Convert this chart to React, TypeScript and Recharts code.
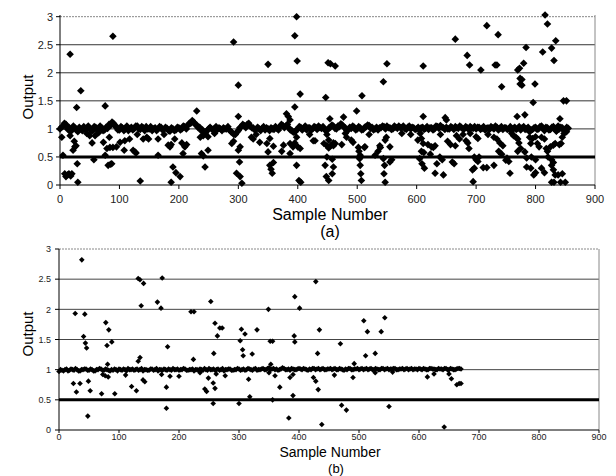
import React from 'react';
import { ScatterChart, Scatter, XAxis, YAxis, ReferenceLine } from 'recharts';

// ---------- Panel (a) ----------
const xTicks = [0, 100, 200, 300, 400, 500, 600, 700, 800, 900];
const yTicks = [0, 0.5, 1, 1.5, 2, 2.5, 3];
const gridValues = [1, 1.5, 2, 2.5];

// dense band near 1.0, one value every 5 samples (samples 0..855)
const bandAStep = 5;
const bandA = [
  1.0, 1.05, 1.08, 1.03, 0.98, 1.02, 0.95, 1.0, 1.04, 0.99,
  1.01, 0.97, 1.03, 1.0, 1.02, 0.98, 1.01, 1.06, 1.1, 1.04,
  0.98, 1.02, 1.0, 0.97, 1.03, 1.01, 1.05, 0.99, 1.02, 1.04,
  1.0, 0.97, 1.02, 1.0, 1.03, 0.99, 1.01, 0.96, 1.0, 0.98,
  1.02, 1.0, 1.04, 1.06, 1.1, 1.12, 1.07, 1.03, 0.98, 0.93,
  1.0, 1.0, 1.01, 0.99, 1.0, 1.02, 1.0, 0.98, 0.93, 0.9,
  0.97, 1.04, 1.06, 1.08, 1.05, 1.02, 0.99, 1.0, 1.01, 0.98,
  1.0, 1.02, 0.99, 1.01, 1.04, 1.06, 1.05, 1.02, 0.97, 0.94,
  1.0, 1.03, 1.01, 0.98, 1.02, 1.0, 1.03, 1.05, 1.01, 0.99,
  0.98, 1.03, 1.05, 1.0, 1.04, 1.07, 1.02, 0.98, 1.01, 1.03,
  1.0, 1.02, 0.99, 1.04, 1.06, 1.03, 1.0, 0.98, 1.02, 1.04,
  1.05, 1.02, 1.0, 1.03, 1.05, 1.02, 1.01, 1.03, 1.0, 1.02,
  1.0, 0.98, 1.03, 1.01, 0.99, 1.02, 1.0, 1.04, 1.06, 1.02,
  1.03, 1.0, 1.02, 1.04, 1.01, 1.03, 1.0, 1.02, 1.04, 1.01,
  1.0, 1.03, 1.01, 0.98, 1.02, 1.04, 1.0, 1.03, 1.01, 0.99,
  1.02, 1.0, 0.97, 1.03, 1.01, 0.98, 1.04, 1.0, 0.95, 0.99,
  1.03, 1.0, 1.05, 0.97, 1.02, 0.99, 1.04, 0.96, 1.0, 1.02,
  0.98, 1.01,
];
// second band pass, samples 2.5, 7.5, ... 852.5
const bandA2Start = 2.5;
const bandA2 = [
  1.03, 1.1, 1.0, 0.95, 1.05, 0.98, 1.03, 0.97, 1.0, 1.05,
  0.97, 1.04, 0.98, 1.05, 0.97, 1.03, 1.08, 1.12, 1.05, 0.98,
  1.04, 0.97, 1.05, 1.0, 0.98, 1.05, 1.0, 1.04, 0.97, 1.0,
  1.04, 1.0, 0.97, 1.04, 0.98, 1.03, 0.97, 1.02, 0.97, 1.03,
  0.98, 1.05, 1.0, 1.1, 1.15, 1.08, 1.02, 0.97, 0.93, 0.97,
  1.03, 0.98, 1.04, 1.02, 0.97, 1.0, 1.04, 0.95, 0.9, 0.94,
  1.02, 1.08, 1.02, 1.1, 1.02, 0.98, 1.03, 0.97, 1.04, 1.02,
  0.97, 1.0, 1.04, 0.98, 1.08, 1.02, 1.08, 0.98, 0.94, 0.98,
  1.04, 0.98, 1.05, 1.02, 0.98, 1.04, 0.99, 1.02, 1.04, 0.97,
  1.02, 1.07, 1.01, 1.05, 1.09, 1.03, 0.97, 1.03, 1.05, 0.98,
  1.04, 0.98, 1.03, 1.07, 1.01, 0.98, 1.03, 1.02, 1.05, 1.0,
  1.02, 0.99, 1.05, 1.01, 1.02, 1.05, 0.99, 1.05, 1.03, 0.99,
  1.03, 1.02, 0.99, 1.04, 1.02, 0.98, 1.05, 1.01, 1.03, 0.99,
  1.0, 1.04, 0.99, 1.02, 1.05, 1.0, 1.04, 0.99, 1.02, 1.04,
  1.03, 0.99, 1.04, 1.01, 0.99, 1.02, 1.05, 0.98, 1.04, 1.02,
  0.99, 1.04, 1.01, 0.99, 1.04, 1.02, 0.99, 1.03, 0.98, 1.02,
  0.99, 1.04, 1.01, 1.03, 0.98, 1.03, 1.01, 0.99, 1.03, 0.97,
  1.03,
];

const outlierXA = [
  89, 17, 35, 28, 76, 398, 395, 292, 350, 399, 451, 300, 404, 447, 230, 395, 300, 381, 384, 387,
  665, 455, 463, 550, 611, 544, 508, 499, 454, 477, 611, 648, 650,
  816, 820, 718, 737, 834, 784, 812, 827, 685, 831, 689, 732, 735, 780, 708, 770, 773, 774, 777, 774, 777,
  743, 799, 796, 847, 852, 782, 769, 841,
];
const outlierYA = [
  2.65, 2.33, 1.68, 1.38, 1.41, 3.0, 2.66, 2.55, 2.15, 2.21, 2.18, 1.78, 1.62, 1.56, 1.32, 1.39, 1.22, 1.27, 1.22, 1.16,
  2.6, 2.16, 2.12, 2.16, 2.12, 1.84, 1.59, 1.32, 1.18, 1.21, 1.22, 1.2, 1.16,
  3.03, 2.87, 2.84, 2.68, 2.57, 2.45, 2.37, 2.44, 2.31, 2.22, 2.14, 2.14, 2.14, 2.17, 2.05, 2.05, 2.08, 1.9, 1.88, 1.8, 1.78,
  1.75, 1.8, 1.47, 1.5, 1.5, 1.25, 1.22, 1.18,
];

const lowXA = [
  3, 5, 8, 10, 13, 15, 18, 20, 22, 25, 27, 29, 30, 17, 24, 50, 54, 57, 59, 73, 79, 81, 84, 85, 87, 89, 83, 76,
  95, 101, 108, 109, 117, 123, 126, 128, 135, 140, 146, 149, 165, 165, 182, 185, 187, 187, 190, 193, 195, 202, 207,
  205, 210, 213,
  236, 241, 249, 238, 241, 244, 249, 289, 292, 303, 300, 302, 297, 303, 306, 322, 325, 336, 348, 353, 359, 350,
  353, 355, 357, 359, 376, 387, 392, 387, 400, 404, 398, 402, 405, 429, 444, 449, 446, 448, 373, 398, 395, 426,
  449, 452, 455, 460, 452, 460, 449, 458, 460, 458, 452, 463, 474, 482, 490, 493, 502, 503, 505, 504, 505, 506, 507,
  512, 513, 530, 535, 538, 539, 547, 549, 555, 544, 546, 545, 547, 555, 558,
  602, 606, 608, 611, 608, 612, 605, 609, 613, 619, 625, 628, 631, 623, 631, 634, 639, 643, 645, 660, 663,
  652, 657, 665, 667, 672, 678, 688,
  683, 686, 700, 703, 697, 700, 703, 705, 694, 697, 712, 718, 730, 695, 730, 735, 740, 745, 738, 743, 752, 757,
  750, 755, 763, 767, 770, 772, 775, 770, 782, 785, 785, 790, 795, 800, 810, 815, 792, 803, 806, 793, 800, 792,
  797, 800, 810, 815, 818, 820, 825, 830, 833, 840, 843, 835, 838, 821, 827, 830, 827, 830, 833, 838, 845, 827,
  831, 842, 850, 845, 848, 852,
  45, 65, 130, 175, 260, 330, 420, 480, 520, 575, 590, 640, 690, 720, 760,
];
const lowYA = [
  0.85, 0.53, 0.2, 0.15, 0.18, 0.2, 0.16, 0.2, 0.62, 0.68, 0.7, 0.38, 0.05, 0.88, 0.78, 0.88, 0.75, 0.45, 0.88, 0.76, 0.65, 0.35, 0.67, 0.37, 0.38, 0.67, 0.85, 0.53,
  0.68, 0.76, 0.62, 0.79, 0.82, 0.62, 0.59, 0.57, 0.07, 0.82, 0.85, 0.82, 0.53, 0.82, 0.71, 0.68, 0.05, 0.72, 0.32, 0.82, 0.22, 0.15, 0.56,
  0.75, 0.68, 0.72,
  0.85, 0.88, 0.86, 0.56, 0.52, 0.32, 0.62, 0.74, 0.78, 0.68, 0.62, 0.41, 0.21, 0.15, 0.03, 0.85, 0.82, 0.76, 0.74, 0.83, 0.69, 0.59,
  0.35, 0.28, 0.21, 0.4, 0.71, 0.74, 0.68, 0.56, 0.68, 0.65, 0.35, 0.08, 0.05, 0.79, 0.74, 0.7, 0.35, 0.15, 0.6, 0.85, 0.75, 0.79,
  0.9, 0.8, 0.7, 0.75, 0.66, 0.7, 0.5, 0.46, 0.32, 0.2, 0.08, 0.74, 0.72, 0.85, 0.8, 0.76, 0.67, 0.6, 0.53, 0.47, 0.35, 0.2, 0.08,
  0.67, 0.68, 0.53, 0.6, 0.7, 0.67, 0.8, 0.85, 0.68, 0.47, 0.35, 0.2, 0.05, 0.41, 0.45,
  0.8, 0.92, 0.83, 0.74, 0.6, 0.58, 0.47, 0.38, 0.3, 0.72, 0.68, 0.67, 0.7, 0.55, 0.21, 0.38, 0.5, 0.45, 0.18, 0.41, 0.38,
  0.78, 0.72, 0.7, 0.88, 0.82, 0.9, 0.65,
  0.79, 0.75, 0.86, 0.83, 0.5, 0.45, 0.42, 0.5, 0.27, 0.3, 0.31, 0.31, 0.35, 0.06, 0.85, 0.82, 0.75, 0.7, 0.6, 0.55, 0.48, 0.21,
  0.44, 0.42, 0.88, 0.85, 0.82, 0.75, 0.65, 0.6, 0.59, 0.48, 0.32, 0.85, 0.83, 0.86, 0.85, 0.82, 0.74, 0.74, 0.68, 0.5, 0.45, 0.3,
  0.18, 0.22, 0.3, 0.22, 0.65, 0.6, 0.68, 0.71, 0.74, 0.72, 0.74, 0.97, 1.05, 0.5, 0.45, 0.4, 0.35, 0.27, 0.18, 0.18, 0.2, 0.05,
  0.05, 0.05, 0.05, 0.85, 0.92, 0.95,
  0.92, 0.93, 0.9, 0.9, 0.92, 0.9, 0.9, 0.92, 0.9, 0.92, 0.9, 0.9, 0.92, 0.9, 0.92,
];

// ---------- Panel (b) ----------
const bandBStep = 5;
const bandB = [
  0.97, 0.99, 1.0, 0.98, 1.01, 0.99, 1.0, 0.98, 1.0, 1.01,
  0.99, 1.0, 0.98, 1.0, 1.01, 0.99, 1.0, 0.98, 0.99, 1.0,
  1.01, 0.99, 1.0, 1.02, 1.0, 0.99, 1.01, 1.0, 0.98, 1.0,
  0.99, 1.01, 1.0, 0.98, 1.0, 1.01, 0.99, 1.0, 1.02, 1.0,
  0.99, 1.0, 1.01, 0.99, 1.0, 0.98, 1.0, 1.01, 0.99, 1.0,
  1.02, 1.0, 0.99, 1.01, 1.0, 0.98, 1.0, 1.01, 0.99, 1.0,
  1.01, 1.0, 0.99, 1.02, 1.0, 1.01, 0.99, 1.0, 1.02, 1.0,
  1.03, 1.01, 1.0, 0.99, 1.01, 1.02, 1.0, 0.99, 1.01, 1.0,
  1.02, 1.0, 1.01, 0.99, 1.0, 1.02, 1.01, 1.0, 1.02, 1.0,
  1.01, 1.0, 1.02, 1.0, 1.01, 0.99, 1.0, 1.02, 1.0, 1.01,
  1.0, 1.02, 1.01, 1.0, 1.02, 1.0, 1.01, 1.0, 1.02, 1.01,
  1.0, 1.01, 1.02, 1.0, 1.01, 1.0, 1.02, 1.01, 1.0, 1.01,
  1.02, 1.0, 1.01, 1.0, 1.02, 1.01, 1.0, 1.01, 1.0, 1.02,
  1.0, 1.01, 1.0, 1.02, 1.01,
];
const bandB2Start = 2.5;
const bandB2 = [
  1.0, 0.98, 1.01, 0.99, 1.0, 1.02, 0.98, 1.0, 1.01, 0.99,
  1.01, 0.98, 1.0, 1.02, 0.99, 1.01, 0.99, 1.0, 1.01, 0.98,
  1.0, 1.01, 0.98, 1.0, 1.01, 1.0, 0.99, 1.02, 1.0, 0.99,
  1.01, 0.99, 1.02, 1.0, 0.99, 1.0, 1.01, 0.99, 1.0, 1.01,
  1.0, 1.02, 0.99, 1.0, 1.01, 1.0, 0.99, 1.0, 1.02, 0.99,
  1.0, 1.01, 1.0, 0.99, 1.02, 1.0, 1.01, 0.99, 1.0, 1.02,
  0.99, 1.01, 1.0, 1.01, 0.99, 1.02, 1.0, 1.01, 1.0, 1.02,
  1.0, 1.02, 1.01, 1.0, 1.03, 1.0, 1.01, 1.02, 1.0, 1.01,
  1.01, 1.02, 1.0, 1.01, 1.02, 1.0, 1.02, 1.01, 1.0, 1.01,
  1.02, 1.01, 1.0, 1.02, 1.0, 1.01, 1.02, 1.0, 1.01, 1.02,
  1.01, 1.0, 1.02, 1.01, 1.0, 1.02, 1.0, 1.02, 1.0, 1.02,
  1.01, 1.02, 1.0, 1.01, 1.02, 1.01, 1.0, 1.02, 1.01, 1.0,
  1.01, 1.02, 1.0, 1.02, 1.01, 1.0, 1.02, 1.01, 1.02, 1.0,
  1.02, 1.0, 1.01, 1.02,
];

const outlierXB = [
  38, 132, 135, 141, 172, 27, 43, 137, 164, 170, 220, 225, 78, 83, 41, 44, 46, 88, 80, 181, 132, 135, 224, 81,
  428, 393, 253, 349, 401, 260, 268, 272, 264, 304, 310, 330, 302, 352, 356, 392, 393, 434, 258, 306, 307, 322, 431, 353,
  543, 508, 514, 537, 469, 527, 511, 492,
];
const outlierYB = [
  2.82, 2.51, 2.49, 2.43, 2.52, 1.93, 1.92, 2.06, 2.12, 2.02, 1.96, 1.96, 1.78, 1.66, 1.55, 1.44, 1.36, 1.46, 1.4, 1.38, 1.14, 1.2, 1.17, 1.09,
  2.46, 2.21, 2.13, 2.0, 2.02, 1.77, 1.69, 1.69, 1.56, 1.67, 1.59, 1.66, 1.48, 1.47, 1.47, 1.56, 1.46, 1.66, 1.27, 1.33, 1.23, 1.26, 1.27, 1.09,
  1.86, 1.81, 1.63, 1.63, 1.43, 1.27, 1.23, 1.1,
];
const lowXB = [
  24, 35, 49, 29, 52, 71, 93, 73, 77, 82, 121, 129, 111, 140, 143, 171, 179, 185, 200, 179, 48,
  235, 249, 257, 243, 246, 260, 262, 277, 316, 350, 360, 368, 385, 390, 424, 428, 432, 257, 300, 318, 356, 390, 383, 438,
  459, 490, 527, 556, 614, 625, 650, 654, 663, 667, 670, 471, 479, 550, 642,
];
const lowYB = [
  0.77, 0.77, 0.81, 0.63, 0.65, 0.6, 0.6, 0.92, 0.9, 0.88, 0.72, 0.65, 0.91, 0.83, 0.8, 0.92, 0.71, 0.89, 0.89, 0.36, 0.23,
  0.95, 0.86, 0.78, 0.68, 0.64, 0.69, 0.93, 0.9, 0.84, 0.95, 0.9, 0.71, 0.87, 0.92, 0.87, 0.81, 0.67, 0.44, 0.44, 0.55, 0.5, 0.57, 0.2, 0.09,
  0.91, 0.87, 0.95, 0.96, 0.88, 0.93, 0.93, 0.85, 0.75, 0.77, 0.77, 0.41, 0.33, 0.39, 0.05,
];

// ---------- build series ----------
const fromBand = (vals: number[], step: number, start = 0) => vals.map((y, i) => ({ x: start + i * step, y }));
const fromXY = (xs: number[], ys: number[]) => xs.map((x, i) => ({ x, y: ys[i] }));

const dataA = [
  ...fromBand(bandA, bandAStep),
  ...fromBand(bandA2, bandAStep, bandA2Start),
  ...fromXY(outlierXA, outlierYA),
  ...fromXY(lowXA, lowYA),
];
const dataB = [
  ...fromBand(bandB, bandBStep),
  ...fromBand(bandB2, bandBStep, bandB2Start),
  ...fromXY(outlierXB, outlierYB),
  ...fromXY(lowXB, lowYB),
];

const FONT = '"Liberation Sans", Arial, sans-serif';

const makeDiamond = (r: number) => (props: any) => {
  const { cx, cy } = props;
  if (cx == null || cy == null) return null;
  return (
    <path
      d={`M${cx},${cy - r}L${cx + r},${cy}L${cx},${cy + r}L${cx - r},${cy}Z`}
      fill="#000"
      stroke="none"
    />
  );
};

const DiamondA = makeDiamond(3.8);
const DiamondB = makeDiamond(2.8);

const fmt = (v: number) => String(v);

export default function App() {
  return (
    <div style={{ position: 'absolute', left: 0, top: 0, width: 616, height: 476, background: '#fff', overflow: 'hidden' }}>
      <div style={{ position: 'absolute', left: 0, top: 0 }}>
        <ScatterChart width={616} height={224} margin={{ top: 15, right: 21, left: 0, bottom: 0 }}>
          <XAxis
            type="number"
            dataKey="x"
            domain={[0, 900]}
            ticks={xTicks}
            interval={0}
            height={39}
            tickSize={4}
            tickMargin={6}
            tickFormatter={fmt}
            axisLine={{ stroke: '#000' }}
            tickLine={{ stroke: '#000' }}
            tick={{ fontSize: 11, fill: '#222', fontFamily: FONT }}
          />
          <YAxis
            type="number"
            dataKey="y"
            domain={[0, 3]}
            ticks={yTicks}
            interval={0}
            width={60}
            tickSize={4}
            tickMargin={3}
            tickFormatter={fmt}
            axisLine={{ stroke: '#000' }}
            tickLine={{ stroke: '#000' }}
            tick={{ fontSize: 11, fill: '#222', fontFamily: FONT }}
          />
          {gridValues.map((g) => (
            <ReferenceLine key={g} y={g} stroke="#333" strokeWidth={1} />
          ))}
          <ReferenceLine y={3} stroke="#888" strokeDasharray="2 1" />
          <ReferenceLine x={900} stroke="#888" />
          <ReferenceLine y={0.5} stroke="#000" strokeWidth={3} />
          <Scatter data={dataA} shape={DiamondA} isAnimationActive={false} />
        </ScatterChart>
      </div>
      <div style={{ position: 'absolute', left: 0, top: 225 }}>
        <ScatterChart width={616} height={251} margin={{ top: 24, right: 17, left: 0, bottom: 0 }}>
          <XAxis
            type="number"
            dataKey="x"
            domain={[0, 900]}
            ticks={xTicks}
            interval={0}
            height={46}
            tickSize={3}
            tickMargin={1}
            tickFormatter={fmt}
            axisLine={{ stroke: '#000' }}
            tickLine={{ stroke: '#000' }}
            tick={{ fontSize: 9, fill: '#222', fontFamily: FONT }}
          />
          <YAxis
            type="number"
            dataKey="y"
            domain={[0, 3]}
            ticks={yTicks}
            interval={0}
            width={59}
            tickSize={4}
            tickMargin={4}
            tickFormatter={fmt}
            axisLine={{ stroke: '#000' }}
            tickLine={{ stroke: '#000' }}
            tick={{ fontSize: 9, fill: '#222', fontFamily: FONT }}
          />
          {gridValues.map((g) => (
            <ReferenceLine key={g} y={g} stroke="#444" strokeWidth={1} />
          ))}
          <ReferenceLine y={3} stroke="#888" strokeDasharray="2 1" />
          <ReferenceLine x={900} stroke="#888" />
          <ReferenceLine y={0.5} stroke="#000" strokeWidth={3} />
          <Scatter data={dataB} shape={DiamondB} isAnimationActive={false} />
        </ScatterChart>
      </div>
      <svg width={616} height={476} style={{ position: 'absolute', left: 0, top: 0, pointerEvents: 'none' }}>
        <g fontFamily={FONT} fill="#000">
          <text x={27} y={97} fontSize={15} textAnchor="middle" dominantBaseline="central" transform="rotate(-90, 27, 97)">Output</text>
          <text x={330} y={214} fontSize={16} textAnchor="middle" dominantBaseline="central">Sample Number</text>
          <text x={330} y={231} fontSize={16} textAnchor="middle" dominantBaseline="central">(a)</text>
          <text x={27} y={334} fontSize={15} textAnchor="middle" dominantBaseline="central" transform="rotate(-90, 27, 334)">Output</text>
          <text x={330} y={452} fontSize={14} textAnchor="middle" dominantBaseline="central">Sample Number</text>
          <text x={336} y={468} fontSize={13} textAnchor="middle" dominantBaseline="central">(b)</text>
        </g>
      </svg>
    </div>
  );
}
